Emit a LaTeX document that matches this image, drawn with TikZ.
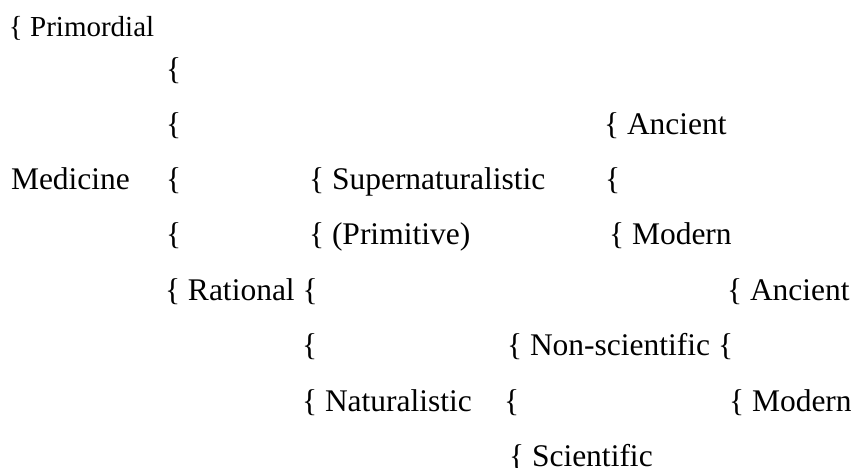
\documentclass[tikz,border=0pt]{standalone}
\usepackage{fontspec}
\setmainfont{Liberation Serif}
\begin{document}
\begin{tikzpicture}[x=1pt,y=-1pt,
  txt/.style={anchor=base west, inner sep=0pt, outer sep=0pt, font=\fontsize{31.5}{38}\selectfont},
  small/.style={txt, font=\fontsize{29}{35}\selectfont}]
\useasboundingbox (0,0) rectangle (856,467);
% row 0
\node[small] (prim) at (9,36) {\{ Primordial};
% row 1
\node[txt] (b1) at (166,79) {\{};
% row 2
\node[txt] (b2) at (166,134) {\{};
\node[txt] (anc1) at (604,134) {\{ Ancient};
% row 3
\node[txt] (med) at (11,189) {Medicine};
\node[txt] (b3) at (166,189) {\{};
\node[txt] (sup) at (309,189) {\{ Supernaturalistic};
\node[txt] (b3r) at (605,189) {\{};
% row 4
\node[txt] (b4) at (166,244.5) {\{};
\node[txt] (primi) at (309,244.5) {\{ (Primitive)};
\node[txt] (mod1) at (609,244.5) {\{ Modern};
% row 5
\node[txt] (rat) at (165,300) {\{ Rational \{};
\node[txt] (anc2) at (727,300) {\{ Ancient};
% row 6
\node[txt] (b6) at (302,355.5) {\{};
\node[txt] (nons) at (507,355.5) {\{ Non-scientific \{};
% row 7
\node[txt] (nat) at (302,411) {\{ Naturalistic};
\node[txt] (b7) at (504,411) {\{};
\node[txt] (mod2) at (729,411) {\{ Modern};
% row 8
\node[txt] (sci) at (509,466.5) {\{ Scientific};
\end{tikzpicture}
\end{document}
